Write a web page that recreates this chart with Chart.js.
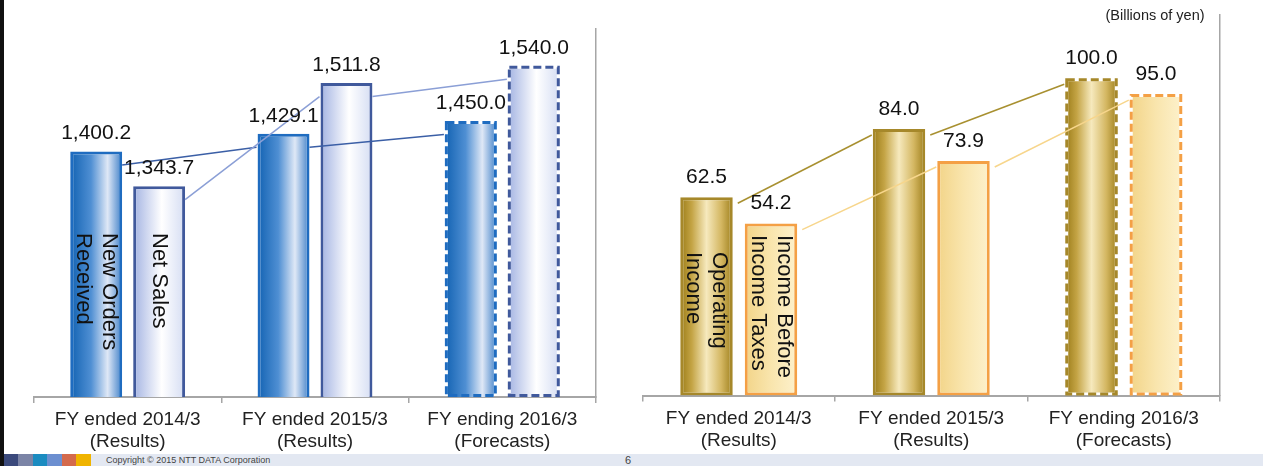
<!DOCTYPE html>
<html>
<head>
<meta charset="utf-8">
<script src="https://cdn.jsdelivr.net/npm/chart.js@4.4.1/dist/chart.umd.min.js"></script>
<style>
  body { margin: 0; background: #fff; font-family: "Liberation Sans", Arial, sans-serif; }
  #page { position: relative; width: 1263px; height: 466px; overflow: hidden; background: #fff; }
  #c_left { position: absolute; left: 0; top: 0; }
  #c_right { position: absolute; left: 620px; top: 0; }
  .edge { position: absolute; left: 0; top: 0; width: 4px; height: 466px; background: #111; }
  .unit { position: absolute; left: 1090px; top: 7px; width: 130px; text-align: center; font-size: 14.5px; color: #222; }
  .footer { position: absolute; left: 0; top: 454px; width: 1263px; height: 12px; background: #e3e8f2; }
  .sq { position: absolute; top: 0; width: 15px; height: 12px; }
  .copy { position: absolute; left: 106px; top: 1px; font-size: 9px; color: #444; }
  .pno { position: absolute; left: 625px; top: 0; font-size: 11px; color: #444; }
</style>
</head>
<body>
<div id="page">
  <canvas id="c_left" width="620" height="466"></canvas>
  <canvas id="c_right" width="643" height="466"></canvas>
  <div class="unit">(Billions of yen)</div>
  <div class="footer">
    <div class="sq" style="left:4px;background:#3b4a7c"></div>
    <div class="sq" style="left:18px;background:#7b84a6"></div>
    <div class="sq" style="left:33px;background:#1b8bc0"></div>
    <div class="sq" style="left:47px;background:#6c8fd0"></div>
    <div class="sq" style="left:62px;background:#d46a4c"></div>
    <div class="sq" style="left:76px;background:#f0b400"></div>
    <div class="copy">Copyright © 2015 NTT DATA Corporation</div>
    <div class="pno">6</div>
  </div>
  <div class="edge"></div>
</div>
<script>
// fiscal years
const years = [['FY ended 2014/3', '(Results)'], ['FY ended 2015/3', '(Results)'], ['FY ending 2016/3', '(Forecasts)']]
const isForecast = [false, false, true]

// billions of yen
const newOrders = [1400.2, 1429.1, 1450.0]
const netSales = [1343.7, 1511.8, 1540.0]
const operatingIncome = [62.5, 84.0, 100.0]
const incomeBeforeTaxes = [54.2, 73.9, 95.0]

const FONT = '"Liberation Sans", Arial, sans-serif'
const CLEAR = 'rgba(0,0,0,0)'

// gradient fill, dashed forecast outline, connector lines, value + name labels
const barDeco = {
  id: 'barDeco',
  beforeDatasetsDraw(chart) {
    const ctx = chart.ctx
    chart.data.datasets.forEach((ds, d) => {
      chart.getDatasetMeta(d).data.forEach(bar => {
        let g = ctx.createLinearGradient(bar.x - bar.width / 2, 0, bar.x + bar.width / 2, 0)
        ds.stops.forEach(s => g.addColorStop(s[0], s[1]))
        bar.options.backgroundColor = g
      })
    })
  },
  afterDatasetsDraw(chart, args, opts) {
    const ctx = chart.ctx
    const bottom = chart.chartArea.bottom
    ctx.save()
    chart.data.datasets.forEach((ds, d) => {
      let bars = chart.getDatasetMeta(d).data

      // forecast bars get a dashed outline
      bars.forEach((bar, i) => {
        if (!isForecast[i]) return
        let base = Math.min(bar.base, bottom)
        ctx.setLineDash([8, 4])
        ctx.lineWidth = 3
        ctx.strokeStyle = ds.edge
        ctx.strokeRect(bar.x - bar.width / 2 + 1.5, bar.y + 1.5, bar.width - 3, base - bar.y - 3)
      })
      ctx.setLineDash([])

      // connector from one year to the next
      ctx.lineWidth = 1.5
      ctx.strokeStyle = ds.link
      for (let i = 0; i < bars.length - 1; i++) {
        let a = bars[i], b = bars[i + 1]
        ctx.beginPath()
        ctx.moveTo(a.x + a.width / 2 + opts.gap, a.y + opts.drop)
        ctx.lineTo(b.x - b.width / 2 - 1, b.y + opts.drop)
        ctx.stroke()
      }
    })

    // values above bars
    ctx.fillStyle = '#111'
    ctx.font = '21px ' + FONT
    ctx.textAlign = 'center'
    ctx.textBaseline = 'middle'
    chart.data.datasets.forEach((ds, d) => {
      chart.getDatasetMeta(d).data.forEach((bar, i) => {
        let txt = ds.data[i].toLocaleString('en-US', { minimumFractionDigits: 1, maximumFractionDigits: 1 })
        ctx.fillText(txt, bar.x, bar.y - opts.lift)
      })
    })

    // series name written down the first bar
    ctx.font = '22px ' + FONT
    ctx.textAlign = 'left'
    chart.data.datasets.forEach((ds, d) => {
      let bar = chart.getDatasetMeta(d).data[0]
      ctx.save()
      ctx.translate(bar.x, ds.nameTop)
      ctx.rotate(Math.PI / 2)
      ds.name.forEach((line, k) => {
        ctx.fillText(line, 0, (k - (ds.name.length - 1) / 2) * 26)
      })
      ctx.restore()
    })
    ctx.restore()
  }
}

function makeOptions(min, max, pad, deco, cp, bp) {
  return {
    responsive: false,
    animation: false,
    layout: { padding: pad },
    datasets: { bar: { categoryPercentage: cp, barPercentage: bp } },
    plugins: { legend: { display: false }, tooltip: { enabled: false }, barDeco: deco },
    scales: {
      x: {
        grid: { display: true, drawOnChartArea: false, drawTicks: true, tickLength: 6, color: '#a6a6a6', lineWidth: 1.5 },
        border: { display: true, color: '#a6a6a6', width: 2 },
        ticks: { color: '#222', padding: 6, maxRotation: 0, font: { family: FONT, size: 19, lineHeight: 1.15 } }
      },
      y: {
        position: 'right',
        min: min, max: max,
        ticks: { display: false },
        grid: { display: false, drawTicks: false },
        border: { display: true, color: '#a6a6a6', width: 1.5 }
      }
    }
  }
}

function seriesBars(label, name, nameTop, data, stops, edge, link) {
  return {
    label: label, name: name, nameTop: nameTop, data: data,
    stops: stops, edge: edge, link: link,
    borderWidth: 3, borderSkipped: false,
    borderColor: isForecast.map(f => f ? CLEAR : edge)
  }
}

// orders received and net sales
let ctxLeft = document.getElementById('c_left').getContext('2d')
new Chart(ctxLeft, {
  type: 'bar',
  data: {
    labels: years,
    datasets: [
      seriesBars('New Orders Received', ['New Orders', 'Received'], 233, newOrders,
        [[0, '#1262b2'], [0.4, '#4f8fd3'], [0.72, '#dfe8f6'], [1, '#3f80c8']], '#1f6cc0', '#3b5fa6'),
      seriesBars('Net Sales', ['Net Sales'], 233, netSales,
        [[0, '#a3b3e2'], [0.55, '#ffffff'], [1, '#d5ddf3']], '#40599c', '#8b9fd6')
    ]
  },
  options: makeOptions(1000, 1600, { left: 34, right: 24, top: 29, bottom: 7.3 },
    { drop: 13.5, gap: 0, lift: 18 }, 0.672, 0.825),
  plugins: [barDeco]
})

// operating income and income before income taxes
let ctxRight = document.getElementById('c_right').getContext('2d')
new Chart(ctxRight, {
  type: 'bar',
  data: {
    labels: years,
    datasets: [
      seriesBars('Operating Income', ['Operating', 'Income'], 252, operatingIncome,
        [[0, '#9a7b17'], [0.22, '#c4a445'], [0.5, '#f6e9bd'], [0.78, '#d4b762'], [1, '#9e7f1c']], '#a6882a', '#a89030'),
      seriesBars('Income Before Income Taxes', ['Income Before', 'Income Taxes'], 235, incomeBeforeTaxes,
        [[0, '#f2d488'], [0.5, '#f9e5ad'], [1, '#fdf1cc']], '#f4a045', '#f7d68c')
    ]
  },
  options: makeOptions(0, 120, { left: 22.5, right: 43, top: 14.7, bottom: 8.7 },
    { drop: 6, gap: 5, lift: 20 }, 0.67, 0.814),
  plugins: [barDeco]
})
</script>
</body>
</html>
